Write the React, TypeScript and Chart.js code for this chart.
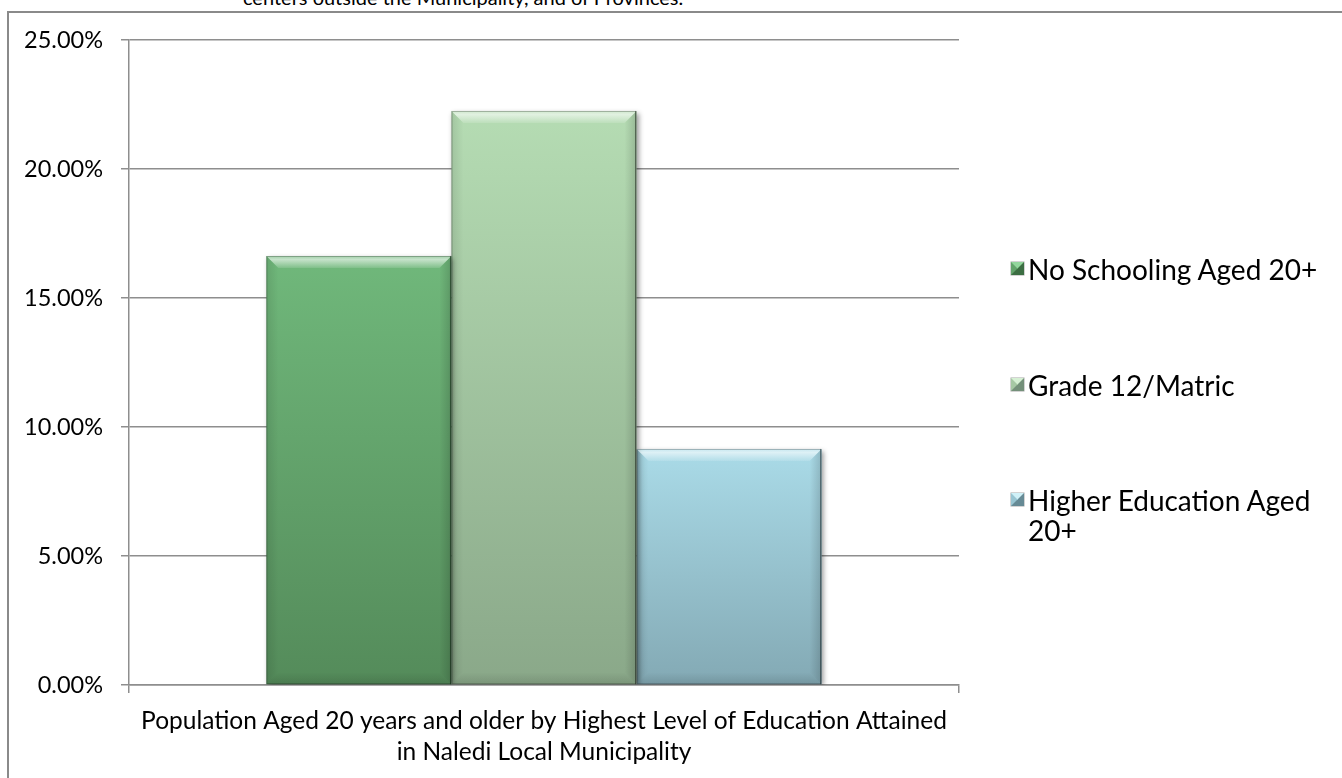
import { useEffect, useRef } from "react";
import { Chart, registerables } from "chart.js";

Chart.register(...registerables);

// One category group holding three education-level series (percent of population aged 20+)
const categories = [""];
const seriesNames = ["No Schooling Aged 20+", "Grade 12/Matric", "Higher Education Aged 20+"];
const noSchooling = [16.63];
const grade12Matric = [22.25];
const higherEducation = [9.15];
const yTickValues = [0, 5, 10, 15, 20, 25];
const axisTitleLines = [
  "Population Aged 20 years and older by Highest Level of Education Attained",
  "in Naledi Local Municipality",
];
const precedingText = "centers outside the Municipality, and of Provinces.";

const FONT = "Lato, 'Open Sans', sans-serif";
const GRID = "#8e8e8e";

// top / bottom shades for each bar face, plus legend swatch shades
const barShades = [
  { top: "#70b87b", bottom: "#548b5a", light: "#93d69d", mid: "#62a36b", dark: "#3c6e43" },
  { top: "#b5dcb3", bottom: "#8aa889", light: "#d6f0d4", mid: "#a6c8a4", dark: "#74907a" },
  { top: "#aadbe8", bottom: "#83a9b4", light: "#d0f1f8", mid: "#98c5d2", dark: "#668a95" },
];
const seriesValues = [noSchooling, grade12Matric, higherEducation];

const faceFill = (i: number) => (ctx: any) => {
  const chart = ctx.chart;
  const ys = chart.scales && chart.scales.y;
  const shade = barShades[i];
  if (!chart.chartArea || !ys) return shade.bottom;
  const v = typeof ctx.raw === "number" ? ctx.raw : ys.max;
  const yTop = ys.getPixelForValue(v);
  const yBase = ys.getPixelForValue(0);
  const g = chart.ctx.createLinearGradient(0, yTop, 0, yBase);
  g.addColorStop(0, shade.top);
  g.addColorStop(1, shade.bottom);
  return g;
};

// soft drop shadow under the bars and a bevelled rim on top of them
const bevelPlugin = {
  id: "bevel",
  beforeDatasetsDraw(chart: any) {
    const c = chart.ctx;
    c.save();
    c.shadowColor = "rgba(0,0,0,0.4)";
    c.shadowBlur = 5;
    c.shadowOffsetX = 2;
    c.shadowOffsetY = 2;
  },
  afterDatasetsDraw(chart: any) {
    const c = chart.ctx;
    c.restore();
    const b = 12;
    chart.data.datasets.forEach((_: any, di: number) => {
      const meta = chart.getDatasetMeta(di);
      meta.data.forEach((el: any) => {
        const { x, y, base, width } = el.getProps(["x", "y", "base", "width"], true);
        const x0 = x - width / 2;
        const x1 = x + width / 2;
        const yt = Math.min(y, base);
        const yb = Math.max(y, base);
        const poly = (pts: number[][], fill: any) => {
          c.beginPath();
          c.moveTo(pts[0][0], pts[0][1]);
          for (let k = 1; k < pts.length; k++) c.lineTo(pts[k][0], pts[k][1]);
          c.closePath();
          c.fillStyle = fill;
          c.fill();
        };
        c.save();
        const tg = c.createLinearGradient(0, yt, 0, yt + b);
        tg.addColorStop(0, "rgba(255,255,255,0.35)");
        tg.addColorStop(0.3, "rgba(255,255,255,0.6)");
        tg.addColorStop(1, "rgba(255,255,255,0.12)");
        poly([[x0, yt], [x1, yt], [x1 - b, yt + b], [x0 + b, yt + b]], tg);
        const lg = c.createLinearGradient(x0, 0, x0 + b, 0);
        lg.addColorStop(0, "rgba(0,0,0,0.10)");
        lg.addColorStop(1, "rgba(0,0,0,0)");
        poly([[x0, yt], [x0 + b, yt + b], [x0 + b, yb - b], [x0, yb]], lg);
        const rg = c.createLinearGradient(x1 - b, 0, x1, 0);
        rg.addColorStop(0, "rgba(0,0,0,0)");
        rg.addColorStop(1, "rgba(0,0,0,0.16)");
        poly([[x1, yt], [x1, yb], [x1 - b, yb - b], [x1 - b, yt + b]], rg);
        const bg = c.createLinearGradient(0, yb - b, 0, yb);
        bg.addColorStop(0, "rgba(0,0,0,0)");
        bg.addColorStop(1, "rgba(0,0,0,0.12)");
        poly([[x0, yb], [x0 + b, yb - b], [x1 - b, yb - b], [x1, yb]], bg);
        c.lineWidth = 1;
        c.strokeStyle = "rgba(0,0,0,0.25)";
        c.strokeRect(x0 + 0.5, yt + 0.5, width - 1, yb - yt - 1);
        c.strokeStyle = "rgba(0,0,0,0.4)";
        c.beginPath();
        c.moveTo(x1 - 1, yt);
        c.lineTo(x1 - 1, yb);
        c.stroke();
        c.restore();
      });
    });
  },
};

function Swatch({ i }: { i: number }) {
  const s = barShades[i];
  return (
    <span
      style={{
        display: "block",
        width: 1,
        height: 1,
        borderStyle: "solid",
        borderWidth: 6,
        borderTopColor: s.light,
        borderLeftColor: s.mid,
        borderRightColor: s.dark,
        borderBottomColor: s.dark,
        background: s.mid,
        boxShadow: "0 0 0 0.5px rgba(0,0,0,0.35)",
      }}
    />
  );
}

export default function App() {
  const canvasRef = useRef<HTMLCanvasElement | null>(null);

  useEffect(() => {
    if (!canvasRef.current) return;
    const chart = new Chart(canvasRef.current, {
      type: "bar",
      data: {
        labels: categories,
        datasets: seriesNames.map((name, i) => ({
          label: name,
          data: seriesValues[i],
          backgroundColor: faceFill(i),
          borderWidth: 0,
          categoryPercentage: 0.669,
          barPercentage: 1,
        })),
      },
      options: {
        responsive: false,
        animation: false,
        events: [],
        layout: { padding: { top: 40, right: 383, left: 0, bottom: 0 } },
        plugins: { legend: { display: false }, tooltip: { enabled: false } },
        scales: {
          x: {
            grid: { drawOnChartArea: false, drawTicks: true, tickLength: 8, color: GRID, lineWidth: 1.5 },
            border: { color: GRID, width: 1.5 },
            ticks: { display: false },
            title: {
              display: true,
              text: axisTitleLines,
              color: "#000",
              font: { family: FONT, size: 24.5, lineHeight: 1.27 },
              padding: { top: 0, bottom: 10 },
            },
            afterFit: (s: any) => {
              s.height = 93;
            },
          },
          y: {
            min: yTickValues[0],
            max: yTickValues[yTickValues.length - 1],
            afterBuildTicks: (s: any) => {
              s.ticks = yTickValues.map((v) => ({ value: v }));
            },
            ticks: {
              color: "#000",
              font: { family: FONT, size: 23.5 },
              padding: 18,
              callback: (v: any) => Number(v).toFixed(2) + "%",
            },
            grid: { color: GRID, lineWidth: 1.5, tickLength: 8 },
            border: { color: GRID, width: 1.5 },
            afterFit: (s: any) => {
              s.width = 129;
            },
          },
        },
      },
      plugins: [bevelPlugin],
    } as any);
    return () => chart.destroy();
  }, []);

  const legendTops = [254, 370, 485];

  return (
    <div
      style={{
        position: "fixed",
        left: 0,
        top: 0,
        width: 1342,
        height: 778,
        overflow: "hidden",
        background: "#fff",
        fontFamily: FONT,
      }}
    >
      <div
        style={{
          position: "absolute",
          left: 243,
          top: -13,
          fontSize: 20,
          lineHeight: "20px",
          color: "#000",
          whiteSpace: "nowrap",
        }}
      >
        {precedingText}
      </div>
      <div
        style={{
          position: "absolute",
          left: 7,
          top: 11,
          width: 2000,
          height: 2000,
          borderLeft: "2px solid #8a8a8a",
          borderTop: "2px solid #8a8a8a",
        }}
      />
      <canvas ref={canvasRef} width={1342} height={778} style={{ position: "absolute", left: 0, top: 0 }} />
      {seriesNames.map((name, i) => (
        <div
          key={name}
          style={{
            position: "absolute",
            left: 1011,
            top: legendTops[i],
            display: "flex",
            alignItems: "flex-start",
            fontSize: 28,
            lineHeight: "30px",
            color: "#000",
          }}
        >
          <span style={{ display: "block", flex: "none", marginTop: 8, marginRight: 4 }}>
            <Swatch i={i} />
          </span>
          <span style={{ width: 300 }}>{name}</span>
        </div>
      ))}
    </div>
  );
}
